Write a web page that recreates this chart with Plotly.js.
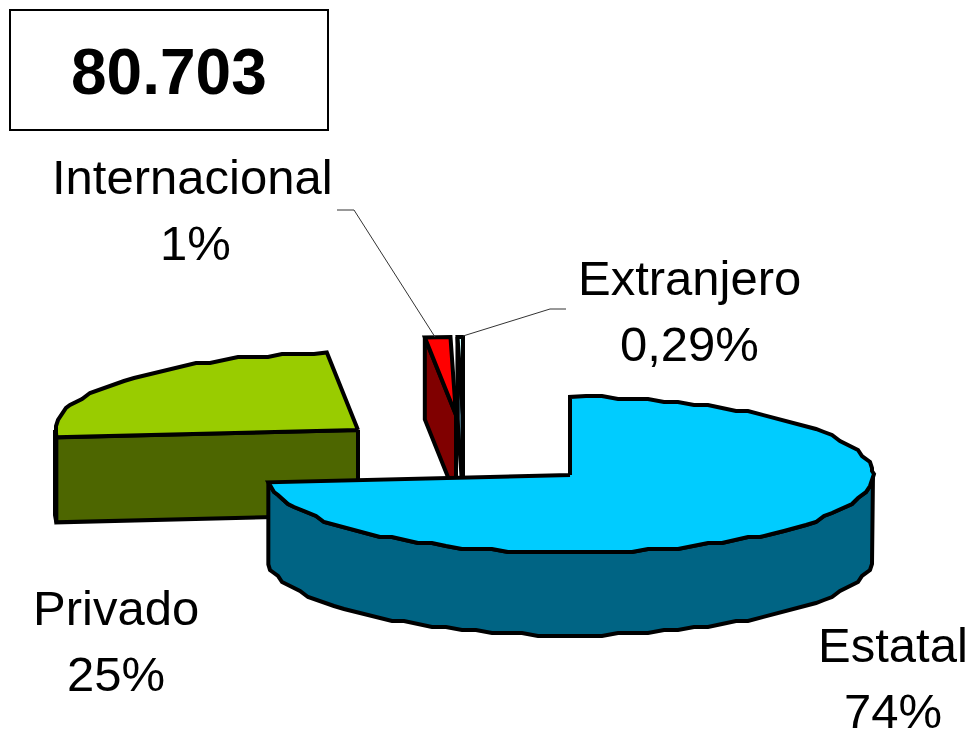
<!DOCTYPE html>
<html>
<head>
<meta charset="utf-8">
<script src="https://cdn.plot.ly/plotly-3.0.0.min.js"></script>
<style>html,body{margin:0;padding:0;background:#fff}#chart{width:976px;height:733px}</style>
</head>
<body>
<div id="chart"></div>
<script>
// --- data ---
var categories = ["Estatal", "Privado", "Internacional", "Extranjero"];
var shares = [73.5, 24.86, 1.35, 0.29];
var shareLabels = ["74%", "25%", "1%", "0,29%"];
var totalLabel = "80.703";

// --- style and placement of the 3D pie ---
var topColors = ["#00ccff", "#99cc00", "#ff0000", "#ccffff"];
var sideColors = ["#006484", "#4d6600", "#800000", "#446a7a"];
var centres = [[570, 475], [358, 430], [456, 415], [463, 415]];
var depths = [82, 85, 82, 82];
var RX = 303, RY = 78;
var labelPos = [[893, 678], [116, 641], [192, 210], [689, 311]];
var shareLabelDx = [0, 0, 3, 0];
var LINE_GAP = 66;

var FONT = "Liberation Sans, Arial, sans-serif";

function total(a) { return a.reduce(function (s, v) { return s + v; }, 0); }

// slice angle range, clockwise from 12 o'clock, from the shares
var sum = total(shares), acc = 0;
var ranges = shares.map(function (v) {
  var a = acc / sum * 2 * Math.PI; acc += v;
  return [a, acc / sum * 2 * Math.PI];
});

function rimPoint(c, t, dy) {
  var x = c[0] + RX * Math.sin(t);
  var y = c[1] - RY * Math.cos(t) + (dy || 0);
  return [x, y];
}
function snap(p) { // the original's rim is a coarse, stepped outline
  return [Math.round(p[0] / 2) * 2, Math.round(p[1] / 3) * 3];
}
function rim(c, a, b, dy) {
  var pts = [rimPoint(c, a, dy)];
  var step = 3 * Math.PI / 180;
  if (b - a > 6 * step) {
    for (var t = a + step; t < b - step / 2; t += step) pts.push(snap(rimPoint(c, t, dy)));
  }
  pts.push(rimPoint(c, b, dy));
  return pts;
}
function poly(pts, fill, name) {
  var xs = pts.map(function (p) { return p[0]; });
  var ys = pts.map(function (p) { return p[1]; });
  xs.push(xs[0]); ys.push(ys[0]);
  return { type: "scatter", mode: "lines", x: xs, y: ys, fill: "toself", fillcolor: fill,
    line: { color: "#000", width: 4, shape: "linear" }, hoverinfo: "text", text: name, showlegend: false };
}
function topFace(i) {
  var c = centres[i], r = ranges[i];
  return poly([c].concat(rim(c, r[0], r[1])), topColors[i], categories[i]);
}
function cutFace(i, t) { // radial wall at angle t, extruded downward
  var c = centres[i], e = rimPoint(c, t), d = depths[i];
  return poly([c, e, [e[0], e[1] + d], [c[0], c[1] + d]], sideColors[i], categories[i]);
}
function outerWall(i, a, b) { // rim wall between angles a and b
  var c = centres[i];
  return poly(rim(c, a, b).concat(rim(c, a, b, depths[i]).reverse()), sideColors[i], categories[i]);
}

var traces = [
  // Privado
  outerWall(1, ranges[1][0], 1.5 * Math.PI),
  cutFace(1, ranges[1][0]),
  topFace(1),
  // Internacional
  cutFace(2, ranges[2][0]),
  topFace(2),
  // Extranjero
  cutFace(3, ranges[3][0]),
  topFace(3),
  // Estatal, in front of the others
  outerWall(0, Math.PI / 2, ranges[0][1]),
  topFace(0)
];

var annotations = [];
function addText(x, y, text) {
  annotations.push({ x: x, y: y, xref: "x", yref: "y", text: text, showarrow: false,
    xanchor: "center", yanchor: "middle", font: { family: FONT, size: 49, color: "#000" } });
}
categories.forEach(function (c, i) {
  addText(labelPos[i][0], labelPos[i][1] - LINE_GAP / 2, c);
  addText(labelPos[i][0] + shareLabelDx[i], labelPos[i][1] + LINE_GAP / 2, shareLabels[i]);
});
annotations.push({ x: 169, y: 72, xref: "x", yref: "y", text: "<b>" + totalLabel + "</b>", showarrow: false,
  xanchor: "center", yanchor: "middle", font: { family: FONT, size: 64, color: "#000" } });

var shapes = [
  { type: "rect", xref: "x", yref: "y", x0: 10, y0: 10, x1: 328, y1: 130, line: { color: "#000", width: 2 }, fillcolor: "#fff" },
  { type: "path", xref: "x", yref: "y", path: "M337,210 L354,210 L435,337", line: { color: "#333", width: 1 } },
  { type: "path", xref: "x", yref: "y", path: "M566,309 L550,309 L463,336", line: { color: "#333", width: 1 } }
];

var hidden = { visible: false, fixedrange: true, showgrid: false, zeroline: false };
var layout = {
  width: 976, height: 733, margin: { l: 0, r: 0, t: 0, b: 0 },
  paper_bgcolor: "#fff", plot_bgcolor: "#fff", showlegend: false,
  xaxis: Object.assign({ range: [0, 976] }, hidden),
  yaxis: Object.assign({ range: [733, 0] }, hidden),
  annotations: annotations, shapes: shapes
};
Plotly.newPlot("chart", traces, layout, { displayModeBar: false, staticPlot: true });
</script>
</body>
</html>
